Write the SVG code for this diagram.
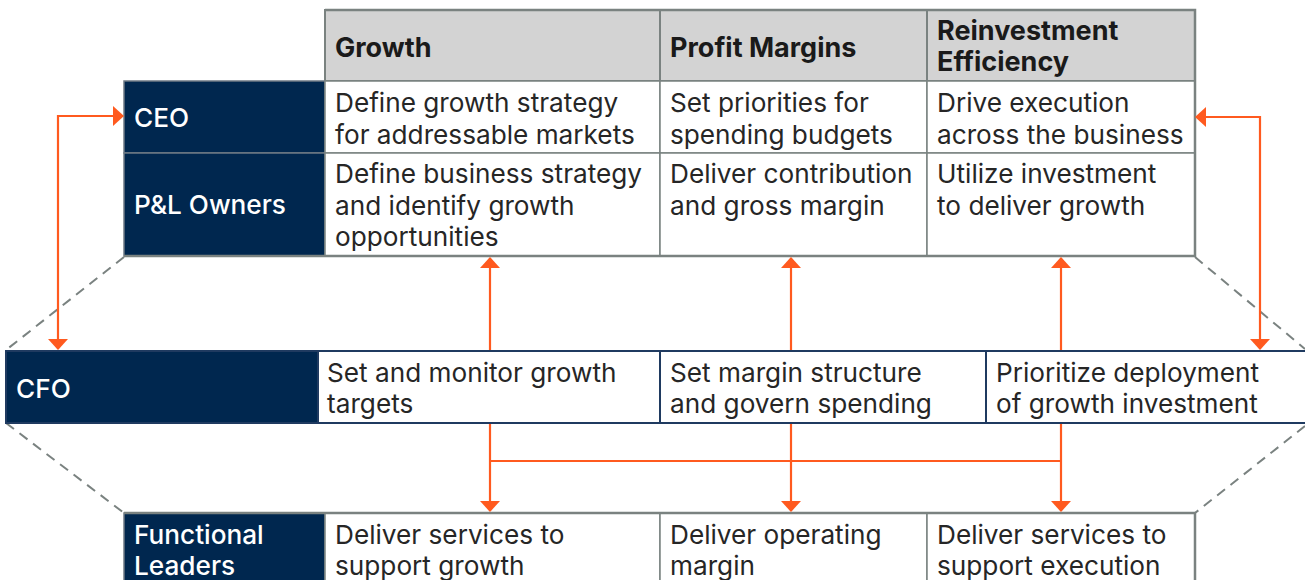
<svg xmlns="http://www.w3.org/2000/svg" width="1305" height="580" viewBox="0 0 1305 580">
<defs>
<style>
.hdr{fill:#d3d3d3;stroke:#7a8280;stroke-width:2}
.cell{fill:#ffffff;stroke:#7a8280;stroke-width:1.5}
.lab{fill:#00274f;stroke:#6e7a85;stroke-width:1.5}
.cfo{fill:#ffffff;stroke:#1f3a60;stroke-width:2}
.cfolab{fill:#00274f;stroke:#1f3a60;stroke-width:2}
.dash{fill:none;stroke:#7a8280;stroke-width:2;stroke-dasharray:10 7}
.conn{fill:none;stroke:#ff5a1f;stroke-width:2.2;marker-end:url(#ah)}
.both{marker-start:url(#ah)}
.plain{fill:none;stroke:#ff5a1f;stroke-width:2.2}
text{font-family:Inter,"Liberation Sans",sans-serif;font-size:26.2px}
.t{fill:#262626}
.h{fill:#1a1a1a;font-weight:700;font-size:27px}
.w{fill:#ffffff;font-weight:500}
</style>
<marker id="ah" markerUnits="userSpaceOnUse" markerWidth="12" markerHeight="20" refX="10" refY="10" orient="auto-start-reverse" viewBox="0 0 12 20">
<path d="M0,0 L11,10 L0,20 Z" fill="#ff5a1f"/>
</marker>
</defs>

<g id="dashed-guides">
<path class="dash" d="M124,257 L6,350"/>
<path class="dash" d="M1195,257 L1305,349"/>
<path class="dash" d="M6,423 L124,513"/>
<path class="dash" d="M1305,426 L1195,513"/>
</g>

<g id="top-table">
<g id="header-growth"><rect class="hdr" x="325" y="10" width="335" height="71"/><text class="h" x="335" y="57">Growth</text></g>
<g id="header-profit"><rect class="hdr" x="660" y="10" width="267" height="71"/><text class="h" x="670" y="57">Profit Margins</text></g>
<g id="header-reinvest"><rect class="hdr" x="927" y="10" width="268" height="71"/><text class="h" x="937" y="40">Reinvestment</text><text class="h" x="937" y="71">Efficiency</text></g>

<g id="ceo-label"><rect class="lab" x="124" y="81" width="201" height="72"/><text class="w" x="134" y="127">CEO</text></g>
<g id="ceo-growth"><rect class="cell" x="325" y="81" width="335" height="72"/><text class="t" x="335" y="112">Define growth strategy</text><text class="t" x="335" y="144">for addressable markets</text></g>
<g id="ceo-profit"><rect class="cell" x="660" y="81" width="267" height="72"/><text class="t" x="670" y="112">Set priorities for</text><text class="t" x="670" y="144">spending budgets</text></g>
<g id="ceo-reinvest"><rect class="cell" x="927" y="81" width="268" height="72"/><text class="t" x="937" y="112">Drive execution</text><text class="t" x="937" y="144">across the business</text></g>

<g id="pl-label"><rect class="lab" x="124" y="153" width="201" height="103"/><text class="w" x="134" y="214">P&amp;L Owners</text></g>
<g id="pl-growth"><rect class="cell" x="325" y="153" width="335" height="103"/><text class="t" x="335" y="183">Define business strategy</text><text class="t" x="335" y="215">and identify growth</text><text class="t" x="335" y="246">opportunities</text></g>
<g id="pl-profit"><rect class="cell" x="660" y="153" width="267" height="103"/><text class="t" x="670" y="183">Deliver contribution</text><text class="t" x="670" y="215">and gross margin</text></g>
<g id="pl-reinvest"><rect class="cell" x="927" y="153" width="268" height="103"/><text class="t" x="937" y="183">Utilize investment</text><text class="t" x="937" y="215">to deliver growth</text></g>
<path d="M124,256 H1195 V10 H325" fill="none" stroke="#7a8280" stroke-width="2.5"/>
</g>

<g id="cfo-band">
<g id="cfo-label"><rect class="cfolab" x="6" y="351" width="312" height="72"/><text class="w" x="16" y="398">CFO</text></g>
<g id="cfo-growth"><rect class="cfo" x="318" y="351" width="342" height="72"/><text class="t" x="327" y="382">Set and monitor growth</text><text class="t" x="327" y="413">targets</text></g>
<g id="cfo-profit"><rect class="cfo" x="660" y="351" width="326" height="72"/><text class="t" x="670" y="382">Set margin structure</text><text class="t" x="670" y="413">and govern spending</text></g>
<g id="cfo-reinvest"><rect class="cfo" x="986" y="351" width="330" height="72"/><text class="t" x="996" y="382">Prioritize deployment</text><text class="t" x="996" y="413">of growth investment</text></g>
</g>

<g id="bottom-table">
<g id="fl-label"><rect class="lab" x="124" y="513" width="201" height="90"/><text class="w" x="134" y="544">Functional</text><text class="w" x="134" y="575">Leaders</text></g>
<g id="fl-growth"><rect class="cell" x="325" y="513" width="335" height="90"/><text class="t" x="335" y="544">Deliver services to</text><text class="t" x="335" y="575">support growth</text></g>
<g id="fl-profit"><rect class="cell" x="660" y="513" width="267" height="90"/><text class="t" x="670" y="544">Deliver operating</text><text class="t" x="670" y="575">margin</text></g>
<g id="fl-reinvest"><rect class="cell" x="927" y="513" width="268" height="90"/><text class="t" x="937" y="544">Deliver services to</text><text class="t" x="937" y="575">support execution</text></g>
<path d="M124,513 H1195 V590" fill="none" stroke="#7a8280" stroke-width="2.5"/>
</g>

<g id="connectors">
<path class="conn both" d="M58,349 V116 H123"/>
<path class="conn both" d="M1260,349 V117 H1196"/>
<path class="conn" d="M490,350 V258"/>
<path class="conn" d="M791,350 V258"/>
<path class="conn" d="M1061,350 V258"/>
<path class="plain" d="M490,461 H1061"/>
<path class="conn" d="M490,424 V511"/>
<path class="conn" d="M791,424 V511"/>
<path class="conn" d="M1061,424 V511"/>
</g>
</svg>
